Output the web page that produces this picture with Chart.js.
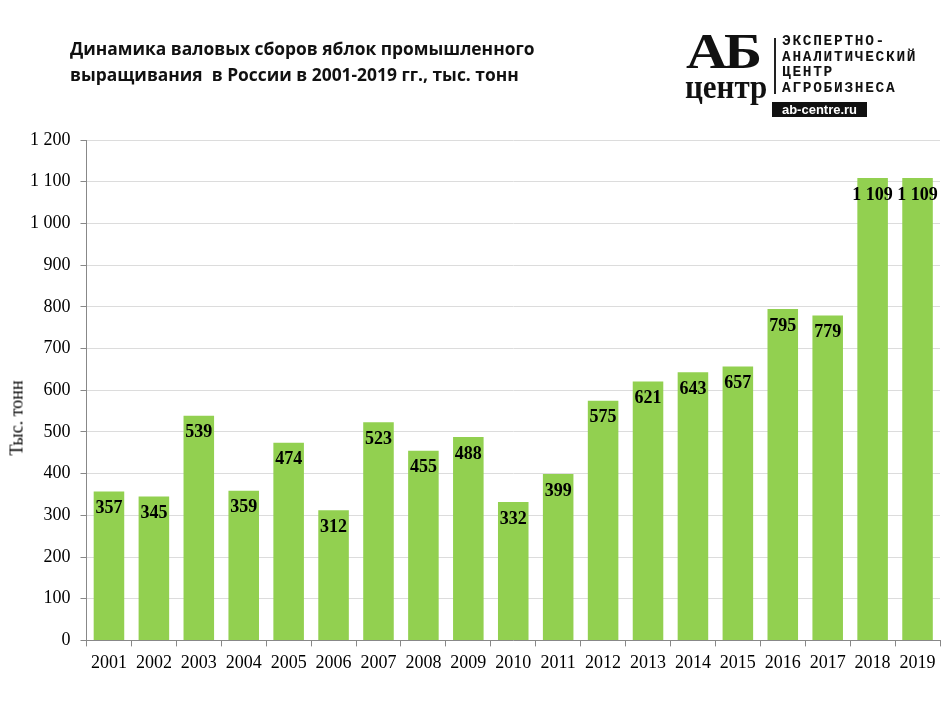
<!DOCTYPE html>
<html>
<head>
<meta charset="utf-8">
<script src="https://cdn.jsdelivr.net/npm/chart.js@4"></script>
<style>
  body { margin: 0; background: #fff; }
  #wrap { position: relative; width: 950px; height: 712px; }
  #title { position: absolute; left: 70px; top: 35px; font: bold 17.4px "Open Sans", "Liberation Sans", sans-serif; line-height: 26px; color: #111; }
  #ytitle { position: absolute; left: 17px; top: 418px; transform: translate(-50%, -50%) rotate(-90deg); font: 18px "Liberation Serif", serif; color: #000; white-space: nowrap; }
  #logo { position: absolute; left: 682px; top: 34px; width: 260px; height: 86px; }
  .ab { position: absolute; left: 4px; top: -12px; font: bold 50px "Liberation Serif", serif; letter-spacing: -3px; color: #111; transform: scaleX(1.15); transform-origin: left; }
  .centr { position: absolute; left: 3px; top: 33px; font: bold 31px "Liberation Serif", serif; color: #111; transform: scaleY(1.1); transform-origin: top; }
  .bar { position: absolute; left: 92px; top: 4px; width: 2px; height: 56px; background: #222; }
  .txt { position: absolute; left: 100px; top: 0px; font: bold 14.5px "Liberation Mono", monospace; line-height: 15.5px; color: #111; letter-spacing: 1.7px; }
  .site { position: absolute; left: 90px; top: 68px; width: 95px; text-align: center; background: #111; color: #fff; font: bold 13px "Liberation Sans", sans-serif; line-height: 15px; }
</style>
</head>
<body>
<div id="wrap">
  <canvas id="chart" width="950" height="712"></canvas>
  <div id="title">Динамика валовых сборов яблок промышленного<br>выращивания&nbsp; в России в 2001-2019 гг., тыс. тонн</div>
  <div id="ytitle">Тыс. тонн</div>
  <div id="logo">
    <div class="ab">АБ</div>
    <div class="centr">центр</div>
    <div class="bar"></div>
    <div class="txt">ЭКСПЕРТНО-<br>АНАЛИТИЧЕСКИЙ<br>ЦЕНТР<br>АГРОБИЗНЕСА</div>
    <div class="site">ab-centre.ru</div>
  </div>
</div>
<script>
var years = ["2001","2002","2003","2004","2005","2006","2007","2008","2009","2010","2011","2012","2013","2014","2015","2016","2017","2018","2019"];
var harvest = [357, 345, 539, 359, 474, 312, 523, 455, 488, 332, 399, 575, 621, 643, 657, 795, 779, 1109, 1109];
var yMax = 1200;
var yStep = 100;

function fmt(v) {
	return String(v).replace(/\B(?=(\d{3})+(?!\d))/g, " ");
}

var valueLabels = {
	id: 'valueLabels',
	afterDatasetsDraw: function(chart) {
		var ctx = chart.ctx;
		var meta = chart.getDatasetMeta(0);
		ctx.save();
		ctx.font = 'bold 18px "Liberation Serif", serif';
		ctx.fillStyle = '#000';
		ctx.textAlign = 'center';
		ctx.textBaseline = 'middle';
		meta.data.forEach(function(bar, i) {
			ctx.fillText(fmt(chart.data.datasets[0].data[i]), bar.x, bar.y + 17);
		});
		ctx.restore();
	}
};

var ctx = document.getElementById("chart");
var chart = new Chart(ctx, {
	type: 'bar',
	data: {
		labels: years,
		datasets: [{
			data: harvest,
			backgroundColor: '#92d050',
			categoryPercentage: 1,
			barPercentage: 0.68
		}]
	},
	options: {
		responsive: false,
		animation: false,
		layout: { padding: { top: 140, right: 10, bottom: 32, left: 20 } },
		plugins: {
			legend: { display: false },
			tooltip: { enabled: false }
		},
		scales: {
			x: {
				grid: { display: true, drawOnChartArea: false, offset: true, color: '#888', tickLength: 6 },
				border: { color: '#888' },
				ticks: { color: '#000', font: { family: '"Liberation Serif", serif', size: 18 }, padding: 6 }
			},
			y: {
				min: 0,
				max: yMax,
				grid: { color: '#dcdcdc', tickLength: 6, tickColor: '#888' },
				border: { color: '#888' },
				ticks: {
					stepSize: yStep,
					color: '#000',
					padding: 10,
					font: { family: '"Liberation Serif", serif', size: 18 },
					callback: function(v) { return fmt(v); }
				}
			}
		}
	},
	plugins: [valueLabels]
});
</script>
</body>
</html>
